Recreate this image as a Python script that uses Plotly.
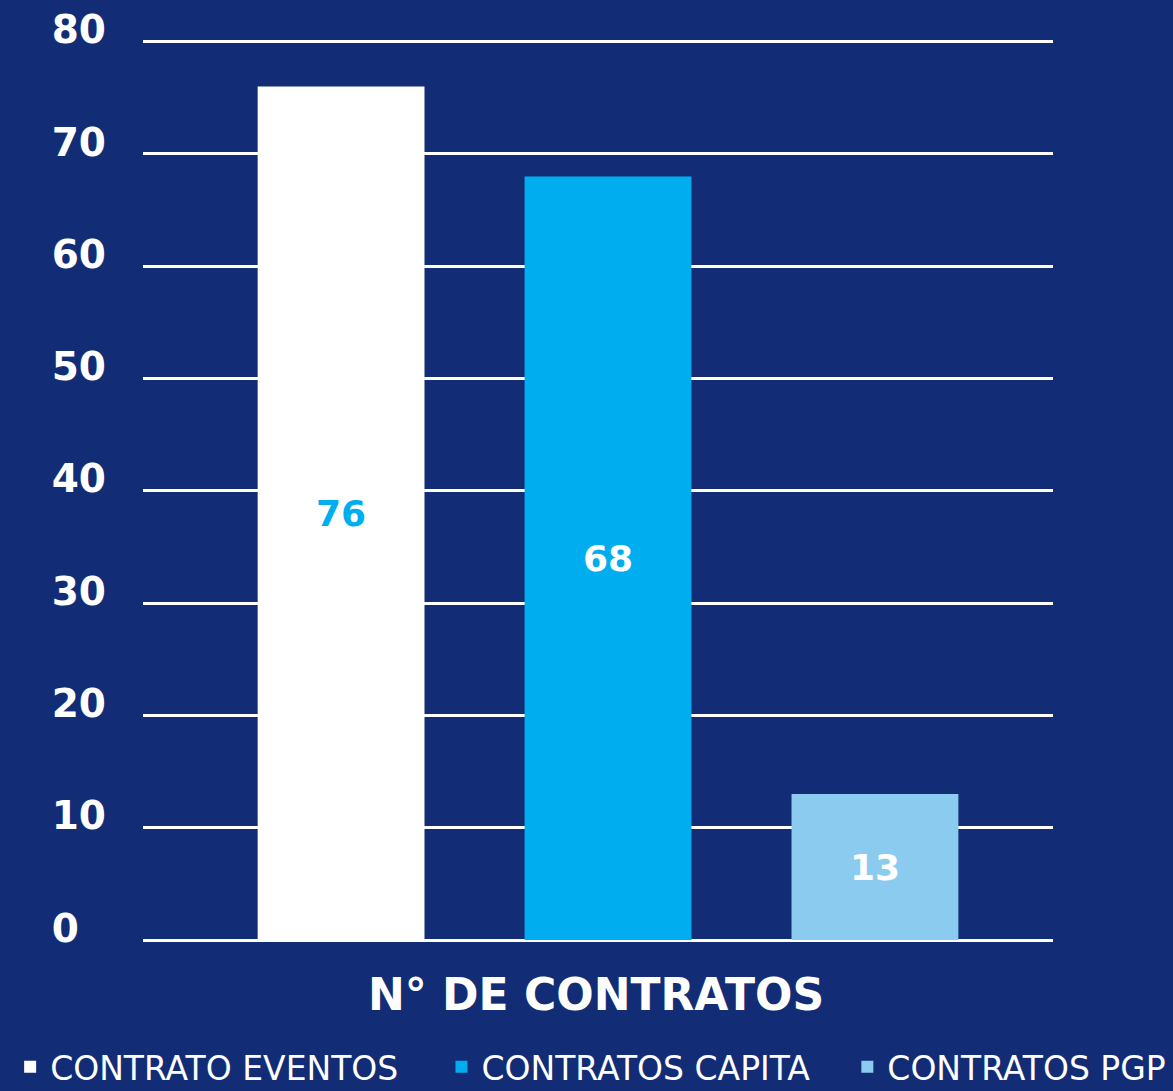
import plotly.graph_objects as go

# data
category = ["N° DE CONTRATOS"]
series_names = ["CONTRATO EVENTOS", "CONTRATOS CAPITA", "CONTRATOS PGP"]
series_values = [76, 68, 13]
series_colors = ["#ffffff", "#00aeef", "#8ccbf0"]
label_colors = ["#00aeef", "#ffffff", "#ffffff"]
y_ticks = [0, 10, 20, 30, 40, 50, 60, 70, 80]

bg = "#122d75"
font_family = "DejaVu Sans"

# one legend per series so the entries sit where the original puts them
legend_ids = ["legend", "legend2", "legend3"]
legend_x = [-0.146, 0.328, 0.774]

fig = go.Figure()
for name, val, col, lcol, lid in zip(series_names, series_values, series_colors, label_colors, legend_ids):
	fig.add_trace(go.Bar(
		x=category,
		y=[val],
		name=name,
		legend=lid,
		marker_color=col,
		marker_line_width=0,
		text=[str(val)],
		textposition="inside",
		insidetextanchor="middle",
		textangle=0,
		textfont=dict(color=lcol, size=36, family=font_family, weight="bold"),
	))

# left-aligned y tick labels: pad single digits with a figure space
tick_text = [str(v) if v >= 10 else str(v) + "\u2007" for v in y_ticks]

fig.update_yaxes(
	range=[0, 80.15],
	tickvals=y_ticks,
	ticktext=tick_text,
	showgrid=True,
	gridcolor="#ffffff",
	gridwidth=3,
	zeroline=True,
	zerolinecolor="#ffffff",
	zerolinewidth=3,
	showline=False,
	ticks="",
	automargin=False,
	ticklabelstandoff=36,
	ticklabelshift=-12,
	tickfont=dict(color="#ffffff", size=39, family=font_family, weight="bold"),
)

fig.update_xaxes(
	range=[-0.511, 0.489],
	showgrid=False,
	showline=False,
	ticks="",
	automargin=False,
	ticklabelstandoff=25,
	ticklabelshift=-12,
	tickfont=dict(color="#ffffff", size=44, family=font_family, weight="bold"),
)

legend_style = dict(
	orientation="h",
	xanchor="left",
	y=-0.141,
	yanchor="middle",
	font=dict(color="#ffffff", size=33, family=font_family),
	bgcolor="rgba(0,0,0,0)",
	itemwidth=30,
)

fig.update_layout(
	barmode="group",
	bargap=0.12,
	bargroupgap=0.375,
	width=1173,
	height=1091,
	paper_bgcolor=bg,
	plot_bgcolor=bg,
	margin=dict(l=143, r=120, t=40, b=151, autoexpand=False),
	showlegend=True,
	uniformtext=dict(minsize=10, mode="show"),
)
for lid, lx in zip(legend_ids, legend_x):
	fig.update_layout({lid: dict(legend_style, x=lx)})

fig.write_html(
	"out.html",
	config={"displayModeBar": False},
	post_script="document.body.style.margin='0';",
)
